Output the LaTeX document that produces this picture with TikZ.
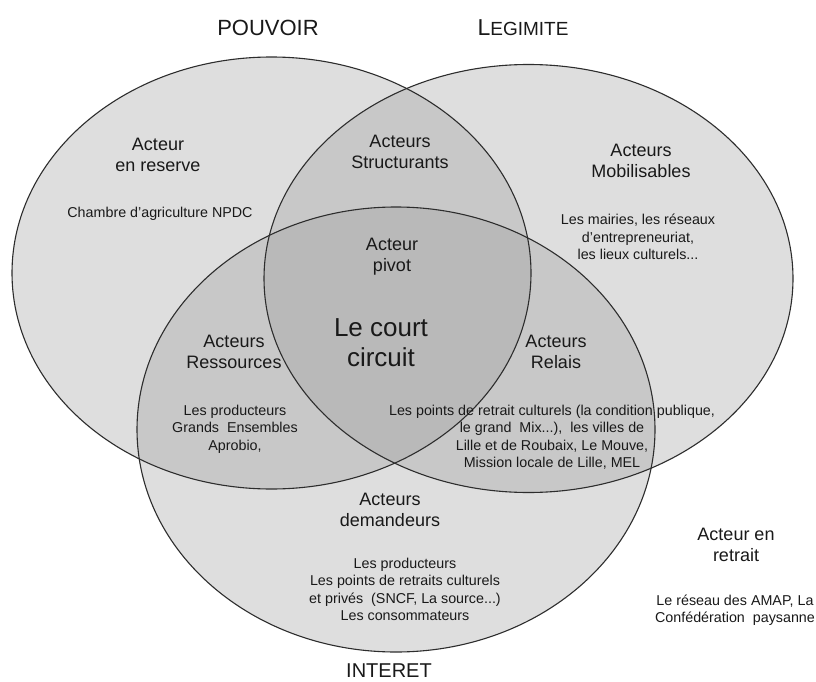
\documentclass[tikz,border=0pt]{standalone}
\usepackage{fontspec}
\setmainfont{Liberation Sans}
\definecolor{vfill}{RGB}{156,156,156}
\definecolor{vline}{RGB}{45,45,45}
\definecolor{txt}{RGB}{25,25,25}
\begin{document}
\begin{tikzpicture}[x=1pt,y=-1pt,
  setfill/.style={fill=vfill, fill opacity=0.333},
  setline/.style={draw=vline, line width=1.1pt},
  lbl/.style={align=center, inner sep=0pt, text=txt, font=\fontsize{18}{21}\selectfont},
  small/.style={align=center, inner sep=0pt, text=txt, font=\fontsize{14.3}{17.5}\selectfont},
  big/.style={align=center, inner sep=0pt, text=txt, font=\fontsize{26}{30}\selectfont},
  title/.style={inner sep=0pt, text=txt, font=\fontsize{21}{24}\selectfont}]
\useasboundingbox (0,0) rectangle (816,682);
\fill[white] (0,0) rectangle (816,682);
\coordinate (cA) at (271.5,273);
\coordinate (cB) at (528.5,278.5);
\coordinate (cC) at (396,429.5);
% fills
\fill[setfill] (cA) ellipse [x radius=259.5pt, y radius=216pt];
\fill[setfill] (cB) ellipse [x radius=264.5pt, y radius=214pt];
\fill[setfill] (cC) ellipse [x radius=259pt, y radius=222.5pt];
% outlines
\draw[setline] (cA) ellipse [x radius=259.5pt, y radius=216pt];
\draw[setline] (cB) ellipse [x radius=264.5pt, y radius=214pt];
\draw[setline] (cC) ellipse [x radius=259pt, y radius=222.5pt];
% titles
\node[title, font=\fontsize{22}{24}\selectfont] (pouvoir) at (268,27.5) {POUVOIR};
\node[title] (legimite) at (523,27.5) {{\fontsize{23}{24}\selectfont L}{\fontsize{19}{24}\selectfont EGIMITE}};
\node[title, font=\fontsize{20}{24}\selectfont] (interet) at (389,671) {INTERET};
% labels
\node[lbl] (reserve) at (158,155) {Acteur\\en reserve};
\node[small] (chambre) at (160,214) {Chambre d'agriculture NPDC};
\node[lbl] (struct) at (400,152) {Acteurs\\Structurants};
\node[lbl] (mobil) at (641,161) {Acteurs\\Mobilisables};
\node[small] (mairies) at (638,237) {Les mairies, les réseaux\\d'entrepreneuriat,\\les lieux culturels...};
\node[lbl] (pivot) at (392,257) {Acteur\\pivot};
\node[big] (court) at (381,343) {Le court\\circuit};
\node[lbl] (ressources) at (234,352) {Acteurs\\Ressources};
\node[small] (prod) at (235,429) {Les producteurs\\Grands~ Ensembles\\Aprobio,};
\node[lbl] (relais) at (556,352) {Acteurs\\Relais};
\node[small] (points) at (552,437) {Les points de retrait culturels (la condition publique,\\le grand~ Mix...),~ les villes de\\Lille et de Roubaix, Le Mouve,\\Mission locale de Lille, MEL};
\node[lbl] (demand) at (390,510) {Acteurs\\demandeurs};
\node[small] (demsmall) at (405,589.5) {Les producteurs\\Les points de retraits culturels\\et privés~ (SNCF, La source...)\\Les consommateurs};
\node[lbl] (retrait) at (736,545) {Acteur en\\retrait};
\node[small] (amap) at (735,610) {Le réseau des AMAP, La\\Confédération~ paysanne};
\end{tikzpicture}
\end{document}
